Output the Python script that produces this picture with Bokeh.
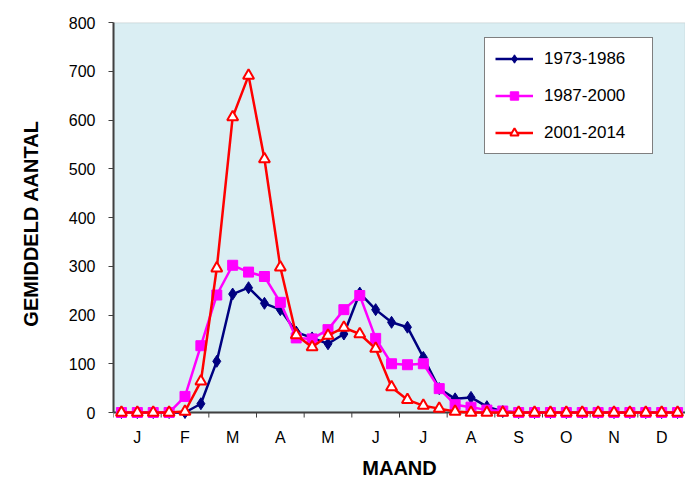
from bokeh.plotting import figure
from bokeh.models import (Range1d, FixedTicker, BoxAnnotation, Legend, LegendItem)
from bokeh.embed import file_html
from bokeh.resources import INLINE

months = ["J", "F", "M", "A", "M", "J", "J", "A", "S", "O", "N", "D"]
series_names = ["1973-1986", "1987-2000", "2001-2014"]

s1973 = [0, 0, 0, 0, 0, 18, 105, 243, 256, 224, 211, 165, 153, 141, 161, 245, 211, 185,
         175, 113, 49, 28, 31, 12, 2, 0, 0, 0, 0, 0, 0, 0, 0, 0, 0, 0]
s1987 = [0, 0, 0, 0, 33, 137, 241, 302, 288, 279, 226, 153, 151, 170, 211, 240, 152, 100,
         98, 100, 49, 16, 11, 5, 3, 0, 0, 0, 0, 0, 0, 0, 0, 0, 0, 0]
s2001 = [0, 0, 0, 0, 2, 64, 296, 606, 691, 520, 298, 159, 134, 158, 174, 161, 131, 52,
         26, 14, 8, 2, 0, 0, 0, 0, 0, 0, 0, 0, 0, 0, 0, 0, 0, 0]
y_ticks = [0, 100, 200, 300, 400, 500, 600, 700, 800]

n = len(s1973)
x = list(range(n))
FONT = "Liberation Sans"
Y_MIN = -24.6
TICK_LEN = 10.3  # 5px in data units

p = figure(width=685, height=484, output_backend="svg", toolbar_location=None,
           x_range=Range1d(-0.5, n - 0.5), y_range=Range1d(Y_MIN, 800),
           min_border_left=113, min_border_right=0, min_border_top=22, min_border_bottom=60)
p.background_fill_color = "white"
p.border_fill_color = "white"
p.outline_line_color = None
p.grid.visible = False

p.add_layout(BoxAnnotation(left=-0.5, right=n - 0.5, bottom=0, top=800,
                           fill_color="#DAEEF3", fill_alpha=1.0,
                           line_color="#8C8C8C", line_width=1.5, level="underlay"))

# x axis: labels only; line & ticks drawn at y=0
centers = [3 * i + 1 for i in range(len(months))]
bounds_ticks = [3 * i - 0.5 for i in range(len(months) + 1)]
xa = p.xaxis[0]
xa.ticker = FixedTicker(ticks=centers, minor_ticks=[])
xa.major_label_overrides = {c: m for c, m in zip(centers, months)}
xa.major_tick_line_color = None
xa.minor_tick_line_color = None
xa.major_tick_out = 0
xa.major_tick_in = 0
xa.axis_line_color = None
xa.major_label_text_font = FONT
xa.major_label_text_font_size = "16px"
xa.major_label_text_color = "black"
xa.major_label_standoff = 4
xa.axis_label = "MAAND"
xa.axis_label_text_font = FONT
xa.axis_label_text_font_style = "bold"
xa.axis_label_text_font_size = "20px"
xa.axis_label_text_color = "black"
xa.axis_label_standoff = 8

p.segment(x0=bounds_ticks, y0=[0] * len(bounds_ticks), x1=bounds_ticks,
          y1=[-TICK_LEN] * len(bounds_ticks), line_color="#404040", line_width=1)
p.segment(x0=[-0.5], y0=[0], x1=[n - 0.5], y1=[0], line_color="#404040", line_width=2)

ya = p.yaxis[0]
ya.ticker = FixedTicker(ticks=y_ticks, minor_ticks=[])
ya.bounds = (0, 800)
ya.major_tick_out = 5
ya.major_tick_in = 0
ya.major_tick_line_color = "#404040"
ya.minor_tick_line_color = None
ya.axis_line_color = "#404040"
ya.axis_line_width = 2
ya.major_label_text_font = FONT
ya.major_label_text_font_size = "16px"
ya.major_label_text_color = "black"
ya.major_label_standoff = 13
ya.axis_label = "GEMIDDELD AANTAL"
ya.axis_label_text_font = FONT
ya.axis_label_text_font_style = "bold"
ya.axis_label_text_font_size = "20px"
ya.axis_label_text_color = "black"
ya.axis_label_standoff = 24

l1 = p.line(x, s1973, line_color="#000080", line_width=2.5)
m1 = p.scatter(x, s1973, marker="diamond", size=12, fill_color="#000080", line_color="#000080")
l2 = p.line(x, s1987, line_color="#FF00FF", line_width=2.5)
m2 = p.scatter(x, s1987, marker="square", size=10, fill_color="#FF00FF", line_color="#FF00FF")
l3 = p.line(x, s2001, line_color="#FF0000", line_width=2.5)
m3 = p.scatter(x, s2001, marker="triangle", size=11, fill_color="white", line_color="#FF0000",
               line_width=2)

legend = Legend(items=[LegendItem(label=series_names[0], renderers=[l1, m1]),
                       LegendItem(label=series_names[1], renderers=[l2, m2]),
                       LegendItem(label=series_names[2], renderers=[l3, m3])],
                location=(371, 270), orientation="vertical",
                border_line_color="black", border_line_width=1,
                background_fill_color="white", background_fill_alpha=1.0,
                label_text_font=FONT, label_text_font_size="17px", label_text_color="black",
                glyph_width=38, glyph_height=21, label_height=16, label_standoff=11,
                label_width=98, spacing=16, padding=10, margin=0)
p.add_layout(legend, "center")

open("out.html", "w").write(file_html(p, INLINE))
